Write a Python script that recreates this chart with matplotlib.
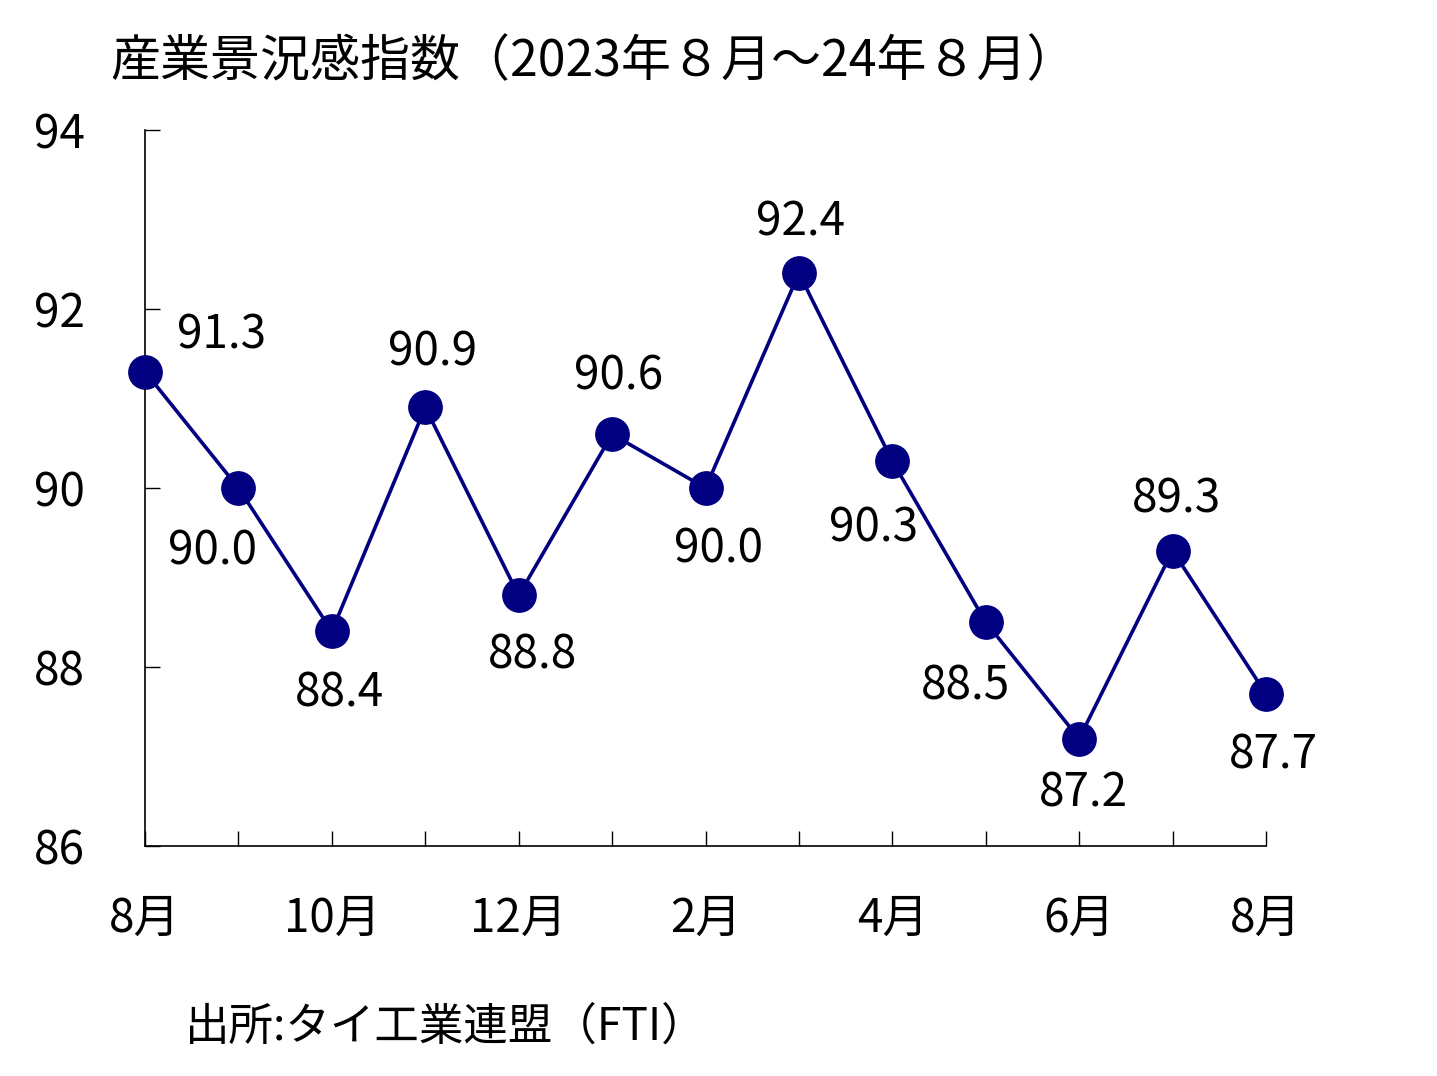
import matplotlib
matplotlib.use('Agg')
import matplotlib.pyplot as plt

plt.rcParams['font.family'] = ['Noto Sans CJK JP', 'DejaVu Sans']

# DATA

months = ['8月', '9月', '10月', '11月', '12月', '1月', '2月',
          '3月', '4月', '5月', '6月', '7月', '8月']
values = [91.3, 90.0, 88.4, 90.9, 88.8, 90.6, 90.0,
          92.4, 90.3, 88.5, 87.2, 89.3, 87.7]
y_ticks = [86, 88, 90, 92, 94]

# label offsets in pixels (dx, dy) relative to each point
label_offsets = [(77, 36), (-26, -63), (8, -62), (7, 55), (14, -60), (6, 58), (13, -61),
                 (2, 51), (-19, -67), (-20, -64), (4, -55), (4, 51), (7, -61)]

title = '産業景況感指数（2023年８月～24年８月）'
source = '出所:タイ工業連盟（FTI）'

# CREATE CHART

fig = plt.figure(figsize=(14.37, 10.76), dpi=100)
ax = fig.add_axes([145 / 1437, 1 - 846 / 1076, (1266 - 145) / 1437, (846 - 130) / 1076])

x = list(range(len(values)))
ax.plot(x, values, color='#000080', linewidth=2.6, marker='o',
        markersize=24, markerfacecolor='#000080', markeredgecolor='#000080',
        clip_on=False, zorder=3)

for i, v in enumerate(values):
    dx, dy = label_offsets[i]
    ax.annotate(f'{v:.1f}', (i, v), xytext=(dx, dy), textcoords='offset pixels',
                ha='center', va='center', fontsize=33)

ax.set_xlim(0, 12)
ax.set_ylim(86, 94)
ax.set_yticks(y_ticks)
ax.set_yticklabels([str(t) for t in y_ticks])
ax.set_xticks(x)
ax.set_xticklabels([m if i % 2 == 0 else '' for i, m in enumerate(months)])

ax.spines['top'].set_visible(False)
ax.spines['right'].set_visible(False)
for s in ['left', 'bottom']:
    ax.spines[s].set_linewidth(1.2)

ax.tick_params(axis='x', direction='in', length=11, width=1, pad=35, labelsize=33)
ax.tick_params(axis='y', direction='in', length=11, width=1, pad=43, labelsize=33)

fig.text(110 / 1437, 1 - 62 / 1076, title, fontsize=36, ha='left', va='center')
fig.text(185 / 1437, 1 - 1027 / 1076, source, fontsize=32, ha='left', va='center')

plt.savefig('out.png', dpi=100)
plt.close()
